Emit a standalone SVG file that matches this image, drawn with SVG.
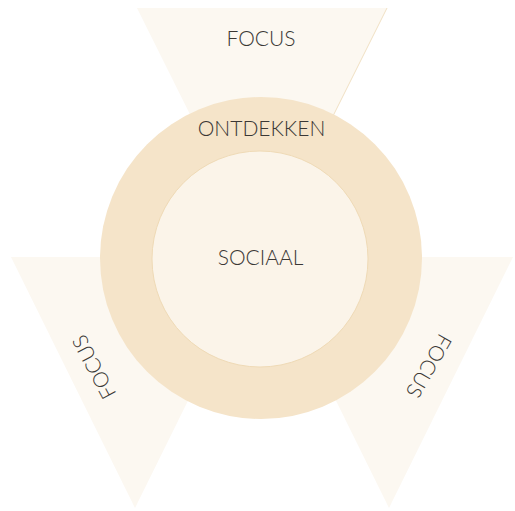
<svg xmlns="http://www.w3.org/2000/svg" width="515" height="511" viewBox="0 0 515 511">
<style>
.tri{fill:#fcf8f1;}
.lbl{font-family:"Lato","Liberation Sans",sans-serif;font-weight:300;font-size:21px;fill:#3b3835;text-anchor:middle;}
</style>
<rect width="515" height="511" fill="#ffffff"/>
<g id="focus-top">
<polygon class="tri" points="137,8 387,8 262,259"/>
<line x1="387" y1="8" x2="330" y2="122" stroke="#f1e1c4" stroke-width="1"/>
<text class="lbl" x="261" y="46">FOCUS</text>
</g>
<g id="focus-left">
<polygon class="tri" points="11,257 259,257 135,508"/>
<text class="lbl" transform="translate(94,367) rotate(-118)" x="0" y="7.5">FOCUS</text>
</g>
<g id="focus-right">
<polygon class="tri" points="265,257 513,257 389,508"/>
<text class="lbl" transform="translate(429,366) rotate(120)" x="0" y="7.5">FOCUS</text>
</g>
<g id="ontdekken">
<circle cx="261" cy="258" r="161" fill="#f5e4c9"/>
<text class="lbl" x="261.5" y="136">ONTDEKKEN</text>
</g>
<g id="sociaal">
<circle cx="260" cy="259" r="108" fill="#fbf4e9" stroke="#efdab6" stroke-width="1"/>
<text class="lbl" x="260.5" y="265">SOCIAAL</text>
</g>
<g id="connectors"></g>
</svg>
